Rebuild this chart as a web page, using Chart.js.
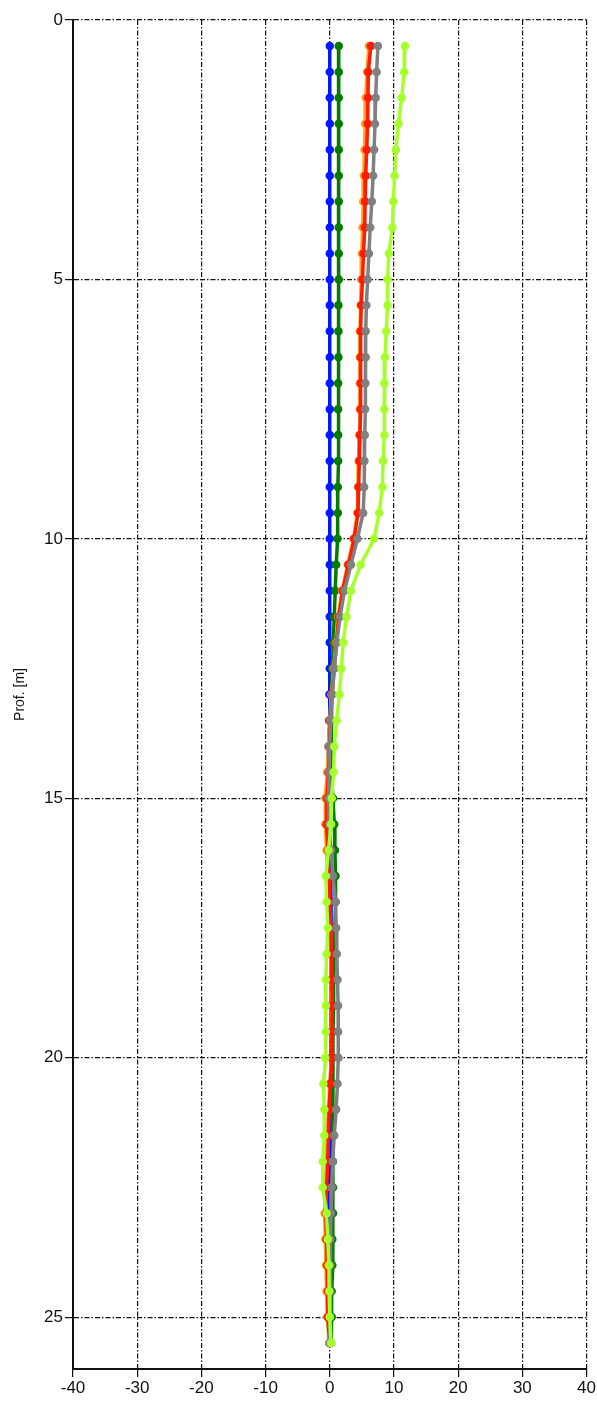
<!DOCTYPE html>
<html lang="en">
<head>
<meta charset="UTF-8">
<title>Prof. [m]</title>
<script src="https://cdn.jsdelivr.net/npm/chart.js@4.4.1/dist/chart.umd.min.js"></script>
<style>
  html, body { margin: 0; padding: 0; background: #fff; }
  #wrap { width: 597px; height: 1405px; position: relative; }
</style>
</head>
<body>
<div id="wrap"><canvas id="perfil"></canvas></div>
<script>
  // profundidad de cada punto (m)
  var prof = [0.5, 1, 1.5, 2, 2.5, 3, 3.5, 4, 4.5, 5,
              5.5, 6, 6.5, 7, 7.5, 8, 8.5, 9, 9.5, 10,
              10.5, 11, 11.5, 12, 12.5, 13, 13.5, 14, 14.5, 15,
              15.5, 16, 16.5, 17, 17.5, 18, 18.5, 19, 19.5, 20,
              20.5, 21, 21.5, 22, 22.5, 23, 23.5, 24, 24.5, 25, 25.5];

  var serieAzul = [0, 0, 0, 0, 0, 0, 0, 0, 0, 0,
                   0, 0, 0, 0, 0, 0, 0, 0, 0, 0,
                   0, 0, 0, 0, 0, -0.05, -0.1, -0.2, -0.3, -0.3,
                   -0.2, 0, 0.1, 0.2, 0.2, 0.2, 0.2, 0.2, 0.2, 0.2,
                   0.1, 0.1, 0, 0, 0, 0, 0, 0, 0, 0, 0];

  var serieVerde = [1.4, 1.4, 1.4, 1.4, 1.4, 1.4, 1.4, 1.4, 1.4, 1.4,
                    1.35, 1.35, 1.35, 1.3, 1.3, 1.3, 1.3, 1.25, 1.25, 1.2,
                    1.0, 0.85, 0.7, 0.55, 0.4, 0.3, 0.2, 0.2, 0.3, 0.5,
                    0.7, 0.8, 0.9, 0.9, 0.8, 0.7, 0.6, 0.6, 0.5, 0.5,
                    0.5, 0.5, 0.5, 0.5, 0.5, 0.5, 0.4, 0.4, 0.3, 0.3, 0.2];

  var serieNaranja = [6.1, 5.8, 5.6, 5.5, 5.4, 5.3, 5.2, 5.1, 5.0, 4.9,
                      4.8, 4.7, 4.7, 4.7, 4.7, 4.6, 4.5, 4.4, 4.3, 3.7,
                      2.8, 1.9, 1.3, 0.95, 0.6, 0.25, 0, -0.2, -0.4, -0.7,
                      -0.7, -0.5, -0.3, -0.1, 0.05, 0.15, 0.2, 0.3, 0.25, 0.2,
                      0, -0.2, -0.4, -0.5, -0.7, -0.8, -0.7, -0.6, -0.5, -0.4, -0.1];

  var serieRoja = [6.4, 6.0, 5.95, 5.9, 5.75, 5.6, 5.5, 5.45, 5.25, 5.1,
                   4.9, 4.8, 4.8, 4.8, 4.8, 4.7, 4.6, 4.5, 4.4, 3.8,
                   2.9, 2.0, 1.4, 1.05, 0.7, 0.35, 0.1, -0.05, -0.2, -0.45,
                   -0.5, -0.3, -0.1, 0, 0.15, 0.25, 0.3, 0.4, 0.35, 0.3,
                   0.1, -0.1, -0.2, -0.3, -0.5, -0.6, -0.5, -0.4, -0.3, -0.3, 0];

  var serieGris = [7.5, 7.3, 7.15, 7.05, 6.9, 6.75, 6.55, 6.3, 6.1, 5.9,
                   5.7, 5.6, 5.6, 5.55, 5.5, 5.45, 5.4, 5.35, 5.2, 4.3,
                   3.3, 2.3, 1.6, 1.1, 0.7, 0.4, 0.15, 0, -0.1, -0.2,
                   -0.1, 0.2, 0.5, 0.9, 1.0, 1.1, 1.2, 1.3, 1.3, 1.35,
                   1.2, 1.0, 0.7, 0.45, 0.3, 0.2, 0.1, 0.1, 0.1, 0, 0];

  var serieAmarilla = [11.7, 11.6, 11.2, 10.7, 10.3, 10.1, 9.9, 9.75, 9.2, 9.0,
                       9.0, 8.8, 8.6, 8.5, 8.5, 8.5, 8.3, 8.2, 7.7, 6.9,
                       4.8, 3.3, 2.6, 2.1, 1.8, 1.5, 1.06, 0.7, 0.6, 0.3,
                       0.2, -0.2, -0.6, -0.5, -0.3, -0.5, -0.6, -0.6, -0.6, -0.7,
                       -1.0, -0.85, -0.85, -1.1, -1.1, -0.5, -0.3, -0.15, -0.1, 0, 0.2];

  // marcas de los ejes
  var ticksX = [-40, -30, -20, -10, 0, 10, 20, 30, 40];
  var ticksY = [0, 5, 10, 15, 20, 25];

  function puntos(valores) {
    return prof.map(function (p, i) { return { x: valores[i], y: p }; });
  }

  function serie(valores, color) {
    return {
      data: puntos(valores),
      borderColor: color,
      backgroundColor: color,
      borderWidth: 3.5,
      pointRadius: 3.5,
      pointBorderWidth: 1.5,
      pointHoverRadius: 3.5,
      tension: 0
    };
  }

  var rejilla = {
    color: '#111',
    lineWidth: 1.2,
    tickColor: '#111',
    tickLength: 8,
    tickBorderDash: []
  };
  var borde = { display: true, color: '#111', width: 2, dash: [5, 2, 1.5, 2] };
  var letra = { family: 'Liberation Sans, Arial, sans-serif', size: 17 };

  // el primer conjunto queda dibujado encima
  new Chart(document.getElementById('perfil'), {
    type: 'line',
    data: {
      datasets: [
        serie(serieAmarilla, '#a6ff2a'),
        serie(serieGris, '#808080'),
        serie(serieRoja, '#ff1a00'),
        serie(serieNaranja, '#ffa31a'),
        serie(serieVerde, '#007d00'),
        serie(serieAzul, '#0018ff')
      ]
    },
    options: {
      indexAxis: 'y',
      responsive: true,
      maintainAspectRatio: false,
      animation: false,
      layout: { padding: { top: 20, right: 9, left: 0, bottom: 0 } },
      plugins: { legend: { display: false }, tooltip: { enabled: false } },
      scales: {
        x: {
          type: 'linear',
          position: 'bottom',
          min: -40,
          max: 40,
          afterBuildTicks: function (s) { s.ticks = ticksX.map(function (v) { return { value: v }; }); },
          afterFit: function (s) { s.height = 36; },
          grid: rejilla,
          border: borde,
          ticks: { color: '#111', font: letra, padding: 1, maxRotation: 0 }
        },
        y: {
          type: 'linear',
          position: 'left',
          reverse: true,
          min: 0,
          max: 26,
          afterBuildTicks: function (s) { s.ticks = ticksY.map(function (v) { return { value: v }; }); },
          afterFit: function (s) { s.width = 73; },
          grid: rejilla,
          border: borde,
          title: {
            display: true,
            text: 'Prof. [m]',
            color: '#111',
            font: { family: 'Liberation Sans, Arial, sans-serif', size: 14 },
            padding: { top: 12, bottom: 0 }
          },
          ticks: { color: '#111', font: letra, padding: 2 }
        }
      }
    }
  });
</script>
</body>
</html>
